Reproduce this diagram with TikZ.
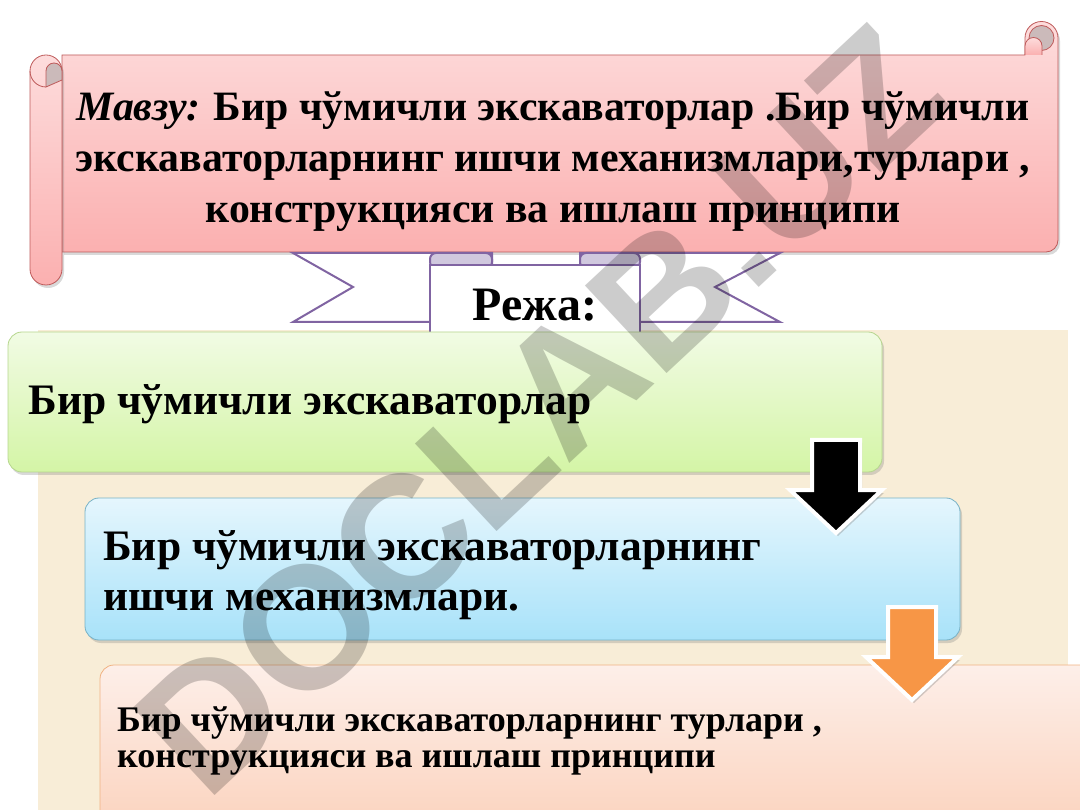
\documentclass[tikz,border=0pt]{standalone}
\usepackage{fontspec}
\setmainfont{Liberation Serif}
\newfontfamily\wmfont{Liberation Sans}
\usepackage{tikz}
\usetikzlibrary{positioning, calc, shadows}

\definecolor{scrolltop}{RGB}{253,220,220}
\definecolor{scrollbot}{RGB}{251,176,176}
\definecolor{scrollline}{RGB}{190,90,90}
\definecolor{curlgray}{RGB}{203,186,186}
\definecolor{ribbonline}{RGB}{128,100,162}
\definecolor{foldfill}{RGB}{208,200,222}
\definecolor{paper}{RGB}{248,237,215}
\definecolor{greentop}{RGB}{241,251,228}
\definecolor{greenbot}{RGB}{212,245,166}
\definecolor{greenline}{RGB}{182,214,142}
\definecolor{bluetop}{RGB}{229,246,253}
\definecolor{bluebot}{RGB}{168,226,249}
\definecolor{blueline}{RGB}{120,178,198}
\definecolor{pinktop}{RGB}{253,239,233}
\definecolor{pinkbot}{RGB}{251,209,187}
\definecolor{pinkline}{RGB}{240,178,130}
\definecolor{arroworange}{RGB}{247,150,70}

\begin{document}
\begin{tikzpicture}[x=1pt, y=-1pt, every node/.style={font=\bfseries},
    scrollpart/.style={top color=scrolltop, bottom color=scrollbot, draw=scrollline, line width=0.8pt},
    curlpart/.style={fill=curlgray, draw=scrollline, line width=0.8pt},
    ribbonpart/.style={fill=white, draw=ribbonline, line width=2pt, line join=miter},
    foldpart/.style={fill=foldfill, draw=ribbonline, line width=2pt, rounded corners=6pt},
    planbox/.style={rectangle, rounded corners=14pt, inner sep=0pt, line width=0.8pt,
        drop shadow={opacity=0.3, shadow xshift=2pt, shadow yshift=-3pt}},
    blockarrow/.style={draw=white, line width=4pt, line join=miter,
        drop shadow={opacity=0.35, shadow xshift=2pt, shadow yshift=-3pt}}]
    \useasboundingbox (0,0) rectangle (1080,810);

    % paper background behind the plan
    \fill[paper] (38,330) rectangle (1068,810);

    % scroll with the topic
    \draw[scrollpart, drop shadow={opacity=0.3, shadow xshift=2pt, shadow yshift=-3pt}]
        (62,252) -- (62,55) -- (1025,55) -- (1025,38) arc[start angle=180, end angle=360, radius=16.5]
        -- (1058,240) arc[start angle=0, end angle=90, radius=12] -- cycle;
    \filldraw[curlpart] (1041.5,38) circle (12.5);
    \draw[scrollpart] (1025,55) -- (1025,46) arc[start angle=180, end angle=360, radius=8.5] -- (1042,55);
    \draw[scrollpart, rounded corners=16pt, drop shadow={opacity=0.3, shadow xshift=2pt, shadow yshift=-3pt}]
        (30,55) rectangle (62,285);
    \draw[scrollline, line width=0.8pt] (30,71) arc[start angle=180, end angle=90, radius=16];
    \filldraw[curlpart] (46,87) -- (46,71) arc[start angle=180, end angle=360, radius=8] -- (62,80) -- cycle;

    \node[align=center, font=\bfseries\fontsize{41.8}{51}\selectfont] (topic) at (553,162)
        {\textit{Мавзу:} Бир чўмичли экскаваторлар .Бир чўмичли\\
         экскаваторларнинг ишчи механизмлари,турлари ,\\
         конструкцияси ва ишлаш принципи};

    % ribbon
    \foreach \tipx/\notchx/\innerx in {293/353/492, 780/715/580}
        \draw[ribbonpart] (\tipx,253) -- (\innerx,253) -- (\innerx,322) -- (\tipx,322) -- (\notchx,287) -- cycle;
    \foreach \fa/\fb in {430/492, 580/640}
        \draw[foldpart] (\fa,253) rectangle (\fb,268);
    \draw[ribbonpart] (430,340) -- (430,265) -- (640,265) -- (640,340);
    \node[font=\bfseries\fontsize{48}{50}\selectfont, anchor=base] (plan) at (535,321) {Режа:};

    % plan items
    \node[planbox, top color=greentop, bottom color=greenbot, draw=greenline,
        minimum width=874pt, minimum height=140pt] (item1) at (445,402) {};
    \node[font=\bfseries\fontsize{43.5}{50}\selectfont, anchor=base west] (text1) at (25,415)
        {Бир чўмичли экскаваторлар};

    \node[planbox, top color=bluetop, bottom color=bluebot, draw=blueline,
        minimum width=875pt, minimum height=142pt] (item2) at (522.5,569) {};
    \node[font=\bfseries\fontsize{43.5}{50}\selectfont, anchor=north west, align=left, inner sep=0pt] (text2) at (103,530)
        {Бир чўмичли экскаваторларнинг\\ишчи механизмлари.};

    \node[planbox, top color=pinktop, bottom color=pinkbot, draw=pinkline,
        minimum width=1000pt, minimum height=175pt] (item3) at (600,752.5) {};
    \node[font=\bfseries\fontsize{36}{36}\selectfont, anchor=north west, align=left, inner sep=0pt] (text3) at (117,707)
        {Бир чўмичли экскаваторларнинг турлари ,\\конструкцияси ва ишлаш принципи};

    % block arrows
    \foreach \cx/\ty/\col in {836/440/black, 912/607/arroworange}
        \draw[blockarrow, fill=\col] (\cx-24,\ty) -- (\cx+24,\ty) -- (\cx+24,\ty+50) -- (\cx+46,\ty+50)
            -- (\cx,\ty+93) -- (\cx-46,\ty+50) -- (\cx-24,\ty+50) -- cycle;

    % watermark
    \node[rotate=43, text=black, opacity=0.2, font=\wmfont\bfseries\fontsize{174}{174}\selectfont] (mark) at (540,410) {DOCLAB.UZ};
\end{tikzpicture}
\end{document}
